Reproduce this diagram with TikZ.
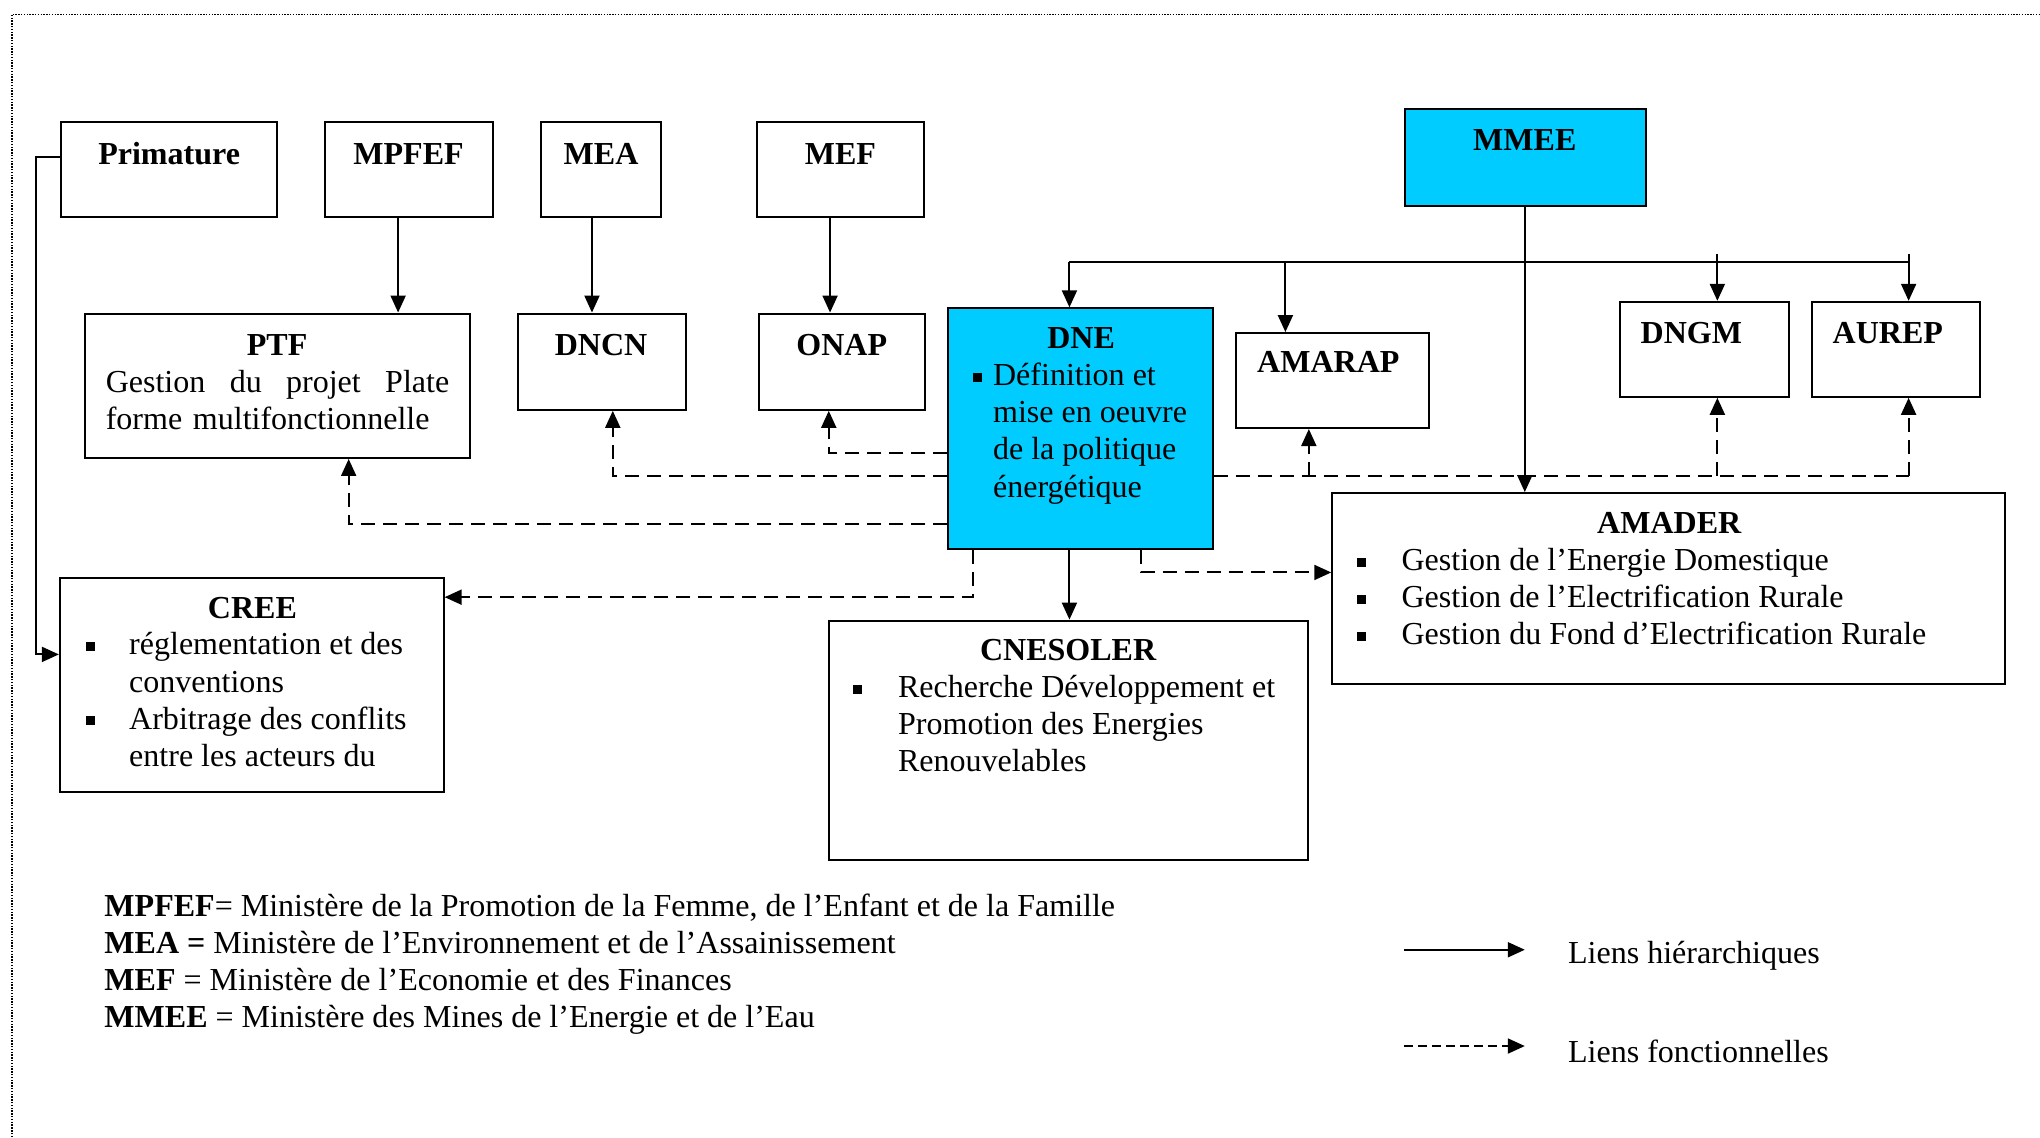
\documentclass[tikz,border=0pt]{standalone}
\usepackage{fontspec}
\setmainfont{Liberation Serif}
\usetikzlibrary{arrows.meta,fit,calc}
\definecolor{cyanbox}{RGB}{0,204,255}
\newcommand\sqb{\rule[0.12em]{0.28em}{0.28em}}
\begin{document}
\begin{tikzpicture}[x=0.65pt,y=-0.65pt,
 box/.style={draw,line width=1pt,inner sep=0pt},
 cbox/.style={box,fill=cyanbox},
 ttl/.style={font=\fontsize{16}{18.5}\selectfont\bfseries,inner sep=0pt},
 body/.style={font=\fontsize{16}{18.5}\selectfont,inner sep=0pt,align=left,anchor=north west},
 lbl/.style={font=\fontsize{16}{18.5}\selectfont,inner sep=0pt,anchor=west},
 hline/.style={line width=1pt},
 harr/.style={hline,-{Triangle[length=8.5pt,width=7.5pt]}},
 fline/.style={line width=1pt,dash pattern=on 7pt off 4pt},
 farr/.style={fline,-{Triangle[length=8.5pt,width=7.5pt]}}]
\useasboundingbox (0,0) rectangle (1568,874);
% frame
\coordinate (fbl) at (9,874);
\coordinate (ftl) at (9,11);
\coordinate (ftr) at (1568,11);
\draw[line width=0.8pt,dash pattern=on 0.7pt off 0.7pt] (fbl) -- (ftl) -- (ftr);

% boxes
\node[box,fit={(47,94) (213,167)}] (primature) {};
\node[box,fit={(250,94) (379,167)}] (mpfef) {};
\node[box,fit={(416,94) (508,167)}] (mea) {};
\node[box,fit={(582,94) (710,167)}] (mef) {};
\node[cbox,fit={(1080,84) (1265,158)}] (mmee) {};
\node[box,fit={(65,241) (361,352)}] (ptf) {};
\node[box,fit={(398,241) (527,315)}] (dncn) {};
\node[box,fit={(583,241) (711,315)}] (onap) {};
\node[cbox,fit={(729,237) (932,422)}] (dne) {};
\node[box,fit={(950,256) (1098,329)}] (amarap) {};
\node[box,fit={(1245,232) (1375,305)}] (dngm) {};
\node[box,fit={(1393,232) (1522,305)}] (aurep) {};
\node[box,fit={(1024,379) (1541,526)}] (amader) {};
\node[box,fit={(46,444) (341,609)}] (cree) {};
\node[box,fit={(637,477) (1005,661)}] (cnesoler) {};

% titles
\node[ttl] (tprim) at (130,118) {Primature};
\node[ttl] (tmpfef) at (314,118) {MPFEF};
\node[ttl] (tmea) at (462,118) {MEA};
\node[ttl] (tmef) at (646,118) {MEF};
\node[ttl] (tmmee) at (1172,108) {MMEE};
\node[ttl] (tptf) at (213,265) {PTF};
\node[ttl] (tdncn) at (462,265) {DNCN};
\node[ttl] (tonap) at (647,265) {ONAP};
\node[ttl] (tdne) at (831,260) {DNE};
\node[ttl] (tamarap) at (1021,278) {AMARAP};
\node[ttl] (tdngm) at (1300,256) {DNGM};
\node[ttl] (taurep) at (1451,256) {AUREP};
\node[ttl] (tamader) at (1283,402) {AMADER};
\node[ttl] (tcree) at (194,467) {CREE};
\node[ttl] (tcnes) at (821,500) {CNESOLER};

% bodies
\node[body,text width=171.6pt] (bptf) at (81,284) {Gestion\hfill du\hfill projet\hfill Plate\\forme multifonctionnelle};
\node[body] (bdne) at (763,279) {\llap{\sqb\hspace{5.5pt}}Définition et\\mise en oeuvre\\de la politique\\énergétique};
\node[body] (bamader) at (1077,421) {\llap{\sqb\hspace{18pt}}Gestion de l’Energie Domestique\\\llap{\sqb\hspace{18pt}}Gestion de l’Electrification Rurale\\\llap{\sqb\hspace{18pt}}Gestion du Fond d’Electrification Rurale};
\node[body] (bcree) at (99,486) {\llap{\sqb\hspace{17pt}}réglementation et des\\conventions\\\llap{\sqb\hspace{17pt}}Arbitrage des conflits\\entre les acteurs du};
\node[body] (bcnes) at (690,519) {\llap{\sqb\hspace{18pt}}Recherche Développement et\\Promotion des Energies\\Renouvelables};

% hierarchical links
\draw[harr] (306,0 |- mpfef.south) -- (306,0 |- ptf.north);
\draw[harr] (455,0 |- mea.south) -- (455,0 |- dncn.north);
\draw[harr] (638,0 |- mef.south) -- (638,0 |- onap.north);
\draw[harr] (1172,0 |- mmee.south) -- (1172,0 |- amader.north);
\coordinate (busL) at (822,201);
\coordinate (busA) at (988,201);
\coordinate (busR) at (1467,201);
\coordinate (busD) at (1320,195);
\coordinate (busE) at (1467,195);
\draw[hline] (busL) -- (busR);
\draw[harr] (busL) -- (busL |- dne.north);
\draw[harr] (busA) -- (busA |- amarap.north);
\draw[harr] (busD) -- (busD |- dngm.north);
\draw[harr] (busE) -- (busE |- aurep.north);
\draw[harr] (primature.west |- 0,121) -| (28,503) -- (cree.west |- 0,503);
\draw[harr] (822,0 |- dne.south) -- (822,0 |- cnesoler.north);

% functional links
\draw[farr] (dne.west |- 0,348) -| (637,0 |- onap.south);
\draw[farr] (dne.west |- 0,366) -| (471,0 |- dncn.south);
\draw[farr] (dne.west |- 0,403) -| (268,0 |- ptf.south);
\coordinate (fr) at (1467,366);
\draw[fline] (dne.east |- fr) -- (fr);
\draw[farr] (1006,366) -- (1006,0 |- amarap.south);
\draw[farr] (1320,366) -- (1320,0 |- dngm.south);
\draw[farr] (fr) -- (fr |- aurep.south);
\draw[farr] (748,0 |- dne.south) |- (cree.east |- 0,459);
\draw[farr] (877,0 |- dne.south) |- (amader.west |- 0,440);

% abbreviations
\node[body] (abbr) at (80,687) {\textbf{MPFEF}= Ministère de la Promotion de la Femme, de l’Enfant et de la Famille\\\textbf{MEA =} Ministère de l’Environnement et de l’Assainissement\\\textbf{MEF} = Ministère de l’Economie et des Finances\\\textbf{MMEE} = Ministère des Mines de l’Energie et de l’Eau};

% legend
\coordinate (l1a) at (1079,730);
\coordinate (l1b) at (1172,730);
\coordinate (l2a) at (1079,804);
\coordinate (l2b) at (1172,804);
\draw[harr] (l1a) -- (l1b);
\draw[farr,dash pattern=on 4.5pt off 2.5pt] (l2a) -- (l2b);
\node[lbl] (lg1) at (1205,735) {Liens hiérarchiques};
\node[lbl] (lg2) at (1205,808) {Liens fonctionnelles};
\end{tikzpicture}
\end{document}
